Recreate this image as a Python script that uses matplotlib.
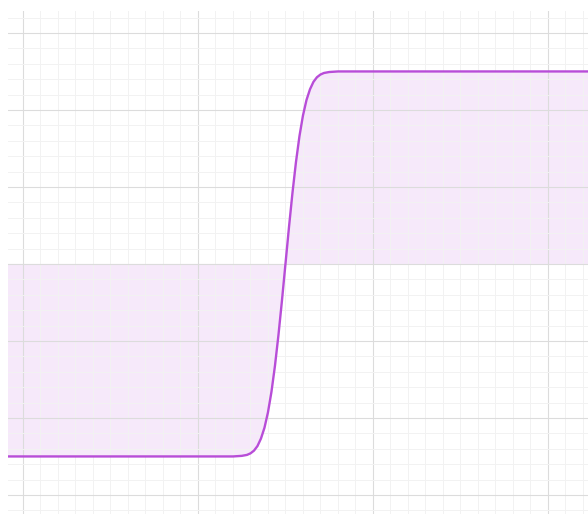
import matplotlib
matplotlib.use("Agg")
import matplotlib.pyplot as plt
from matplotlib.ticker import MultipleLocator

LINE = "#b84dd8"
FILL = "#b84dd8"
MAJOR_GRID = "#dcdcdc"
MINOR_GRID = "#f2f2f2"

# curve values (x in major-grid units, y in +-1 amplitude)
x_vals = [-0.1, 1.0, 1.2, 1.25, 1.28, 1.30, 1.32, 1.34, 1.36, 1.38, 1.40,
          1.42, 1.44, 1.46, 1.48, 1.50, 1.52, 1.54, 1.56, 1.58, 1.60,
          1.62, 1.64, 1.66, 1.68, 1.70, 1.72, 1.75, 1.80, 2.0, 3.3]
y_vals = [-1.0, -1.0, -1.0, -0.997, -0.992, -0.984, -0.970, -0.946, -0.907,
          -0.851, -0.771, -0.664, -0.529, -0.369, -0.190, 0.0, 0.190, 0.369,
          0.529, 0.664, 0.771, 0.851, 0.907, 0.946, 0.970, 0.984, 0.992,
          0.997, 1.0, 1.0, 1.0]

fig = plt.figure(figsize=(5.88, 5.14), dpi=100)
ax = fig.add_axes([8 / 588, 0, 580 / 588, 503 / 514])

ax.fill_between(x_vals, y_vals, 0, color=FILL, alpha=0.12, linewidth=0)
ax.plot(x_vals, y_vals, color=LINE, linewidth=1.7, solid_capstyle="round")

ax.set_xlim(-0.0857, 3.229)
ax.set_ylim(-1.299, 1.314)

ax.xaxis.set_major_locator(MultipleLocator(1.0))
ax.xaxis.set_minor_locator(MultipleLocator(0.1))
ax.yaxis.set_major_locator(MultipleLocator(0.4))
ax.yaxis.set_minor_locator(MultipleLocator(0.08))

ax.grid(which="major", color=MAJOR_GRID, linewidth=0.8)
ax.grid(which="minor", color=MINOR_GRID, linewidth=0.7)
ax.tick_params(which="both", length=0, labelbottom=False, labelleft=False)
for s in ax.spines.values():
    s.set_visible(False)

fig.savefig("out.png", dpi=100)
